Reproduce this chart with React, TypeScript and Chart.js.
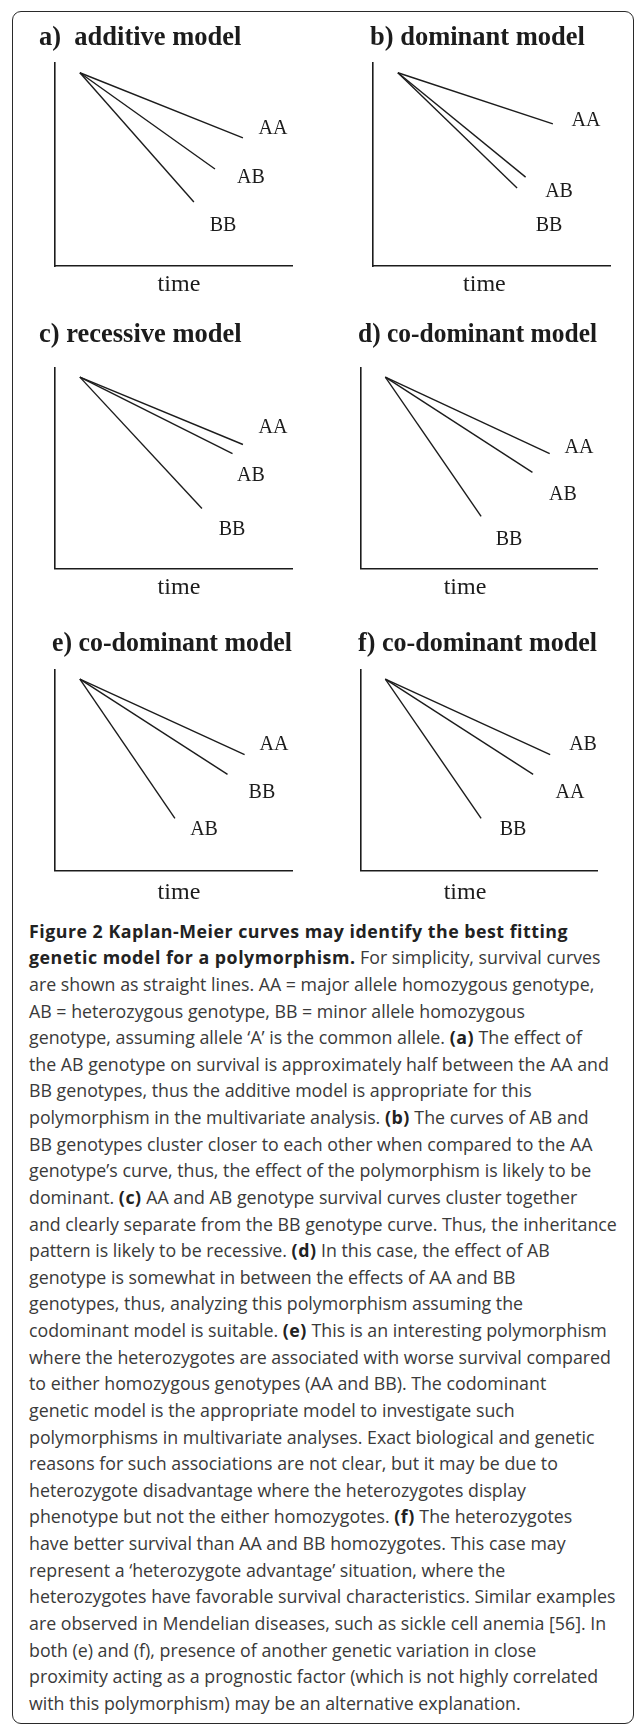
import React, { useEffect, useRef } from "react";
import { Chart, registerables } from "chart.js";

Chart.register(...registerables);

// ---------------- data ----------------
const PANEL_TITLES = [
  "a)  additive model",
  "b) dominant model",
  "c) recessive model",
  "d) co-dominant model",
  "e) co-dominant model",
  "f) co-dominant model",
];
const X_AXIS_TITLE = "time";

// every survival line starts from the same point (time, survival in % of the axes)
const START_TIME = 10.5;
const START_SURVIVAL = 95.2;

// a) additive
const A_GENOTYPES = ["AA", "AB", "BB"];
const A_END_TIME = [79.3, 67.5, 58.6];
const A_END_SURVIVAL = [63.1, 47.8, 31.5];
const A_LABEL_TIME = [92, 82.7, 70.9];
const A_LABEL_SURVIVAL = [67.5, 43.3, 19.7];

// b) dominant
const B_GENOTYPES = ["AA", "AB", "BB"];
const B_END_TIME = [75.9, 64.4, 60.8];
const B_END_SURVIVAL = [70, 43.8, 38.4];
const B_LABEL_TIME = [89.9, 78.5, 74.3];
const B_LABEL_SURVIVAL = [71.4, 36.5, 19.7];

// c) recessive
const C_GENOTYPES = ["AA", "AB", "BB"];
const C_END_TIME = [79.3, 74.9, 62];
const C_END_SURVIVAL = [61.7, 57.2, 29.9];
const C_LABEL_TIME = [92, 82.7, 74.7];
const C_LABEL_SURVIVAL = [70.1, 46.3, 19.4];

// d) co-dominant
const D_GENOTYPES = ["AA", "AB", "BB"];
const D_END_TIME = [80, 72.7, 51];
const D_END_SURVIVAL = [57.2, 47.8, 25.9];
const D_LABEL_TIME = [92.4, 85.6, 62.8];
const D_LABEL_SURVIVAL = [60.2, 36.8, 14.4];

// e) co-dominant (heterozygote disadvantage)
const E_GENOTYPES = ["AA", "BB", "AB"];
const E_END_TIME = [80, 72.8, 50.6];
const E_END_SURVIVAL = [57.7, 47.8, 25.9];
const E_LABEL_TIME = [92.4, 87.3, 62.9];
const E_LABEL_SURVIVAL = [62.7, 38.8, 20.4];

// f) co-dominant (heterozygote advantage)
const F_GENOTYPES = ["AB", "AA", "BB"];
const F_END_TIME = [80.2, 73, 51];
const F_END_SURVIVAL = [57.7, 47.8, 25.9];
const F_LABEL_TIME = [94.1, 88.6, 64.5];
const F_LABEL_SURVIVAL = [62.7, 38.8, 20.4];

// ---------------- layout (page pixels) ----------------
type Layout = {
  titleX: number;
  titleCY: number;
  axisX: number;
  axisTop: number;
  axisRight: number;
  axisBottom: number;
  timeCenter: number; // % of x axis
  timeCY: number;
};

const LAYOUTS: Layout[] = [
  { titleX: 39, titleCY: 38, axisX: 55, axisTop: 63, axisRight: 292, axisBottom: 266, timeCenter: 52.3, timeCY: 285 },
  { titleX: 370, titleCY: 38, axisX: 373, axisTop: 63, axisRight: 610, axisBottom: 266, timeCenter: 47, timeCY: 285 },
  { titleX: 39, titleCY: 334.5, axisX: 55, axisTop: 367, axisRight: 292, axisBottom: 568, timeCenter: 52.3, timeCY: 587 },
  { titleX: 358, titleCY: 334.5, axisX: 360.5, axisTop: 367, axisRight: 597, axisBottom: 568, timeCenter: 44.2, timeCY: 587 },
  { titleX: 52, titleCY: 643.5, axisX: 55, axisTop: 669, axisRight: 292, axisBottom: 870, timeCenter: 52.3, timeCY: 892 },
  { titleX: 358, titleCY: 643.5, axisX: 360.5, axisTop: 669, axisRight: 597, axisBottom: 870, timeCenter: 44.2, timeCY: 892 },
];

const PANEL_DATA = [
  [A_GENOTYPES, A_END_TIME, A_END_SURVIVAL, A_LABEL_TIME, A_LABEL_SURVIVAL],
  [B_GENOTYPES, B_END_TIME, B_END_SURVIVAL, B_LABEL_TIME, B_LABEL_SURVIVAL],
  [C_GENOTYPES, C_END_TIME, C_END_SURVIVAL, C_LABEL_TIME, C_LABEL_SURVIVAL],
  [D_GENOTYPES, D_END_TIME, D_END_SURVIVAL, D_LABEL_TIME, D_LABEL_SURVIVAL],
  [E_GENOTYPES, E_END_TIME, E_END_SURVIVAL, E_LABEL_TIME, E_LABEL_SURVIVAL],
  [F_GENOTYPES, F_END_TIME, F_END_SURVIVAL, F_LABEL_TIME, F_LABEL_SURVIVAL],
] as const;

const INK = "#1c1c1c";
const SERIF = '"Liberation Serif", "Times New Roman", serif';
const TITLE_SIZE = 26.5;
const TITLE_LH = 1.2;

function Panel({ index }: { index: number }) {
  const ref = useRef<HTMLCanvasElement | null>(null);
  const L = LAYOUTS[index];
  const [genotypes, endT, endS, labT, labS] = PANEL_DATA[index] as any;

  const canvasLeft = L.titleX;
  const canvasTop = L.titleCY - 20;
  const canvasW = Math.round(L.axisRight - canvasLeft + 4);
  const canvasH = Math.round(L.timeCY + 24 - canvasTop);

  useEffect(() => {
    if (!ref.current) return;
    const titleBoxTopPad = 20 - (TITLE_SIZE * TITLE_LH) / 2;
    const titleBottomPad = L.axisTop - canvasTop - titleBoxTopPad - TITLE_SIZE * TITLE_LH;

    const labelPlugin = {
      id: "genotypeLabels",
      afterDatasetsDraw(chart: any) {
        const { ctx, scales } = chart;
        const xs = scales.x;
        const ys = scales.y;
        ctx.save();
        ctx.fillStyle = INK;
        ctx.textAlign = "center";
        ctx.textBaseline = "middle";
        ctx.font = `20px ${SERIF}`;
        genotypes.forEach((g: string, i: number) => {
          ctx.fillText(g, xs.getPixelForValue(labT[i]), ys.getPixelForValue(labS[i]));
        });
        ctx.font = `24px ${SERIF}`;
        ctx.fillText(X_AXIS_TITLE, xs.getPixelForValue(L.timeCenter), L.timeCY - canvasTop);
        ctx.restore();
      },
    };

    const chart = new Chart(ref.current, {
      type: "line",
      data: {
        datasets: genotypes.map((g: string, i: number) => ({
          label: g,
          data: [
            { x: START_TIME, y: START_SURVIVAL },
            { x: endT[i], y: endS[i] },
          ],
          borderColor: INK,
          borderWidth: 1.4,
          pointRadius: 0,
          fill: false,
          tension: 0,
        })),
      },
      options: {
        animation: false,
        responsive: false,
        devicePixelRatio: 1,
        layout: {
          padding: {
            left: 0,
            top: 0,
            right: canvasW - (L.axisRight - canvasLeft),
            bottom: canvasH - (L.axisBottom - canvasTop),
          },
        },
        plugins: {
          legend: { display: false },
          tooltip: { enabled: false },
          title: {
            display: true,
            text: PANEL_TITLES[index],
            align: "start",
            color: INK,
            font: { family: SERIF, size: TITLE_SIZE, weight: "bold", lineHeight: TITLE_LH },
            padding: { top: titleBoxTopPad, bottom: titleBottomPad },
          },
        },
        scales: {
          x: {
            type: "linear",
            min: 0,
            max: 100,
            grid: { display: false, drawTicks: false },
            ticks: { display: false },
            border: { display: true, color: INK, width: 1.6 },
            title: { display: false },
          },
          y: {
            type: "linear",
            min: 0,
            max: 100,
            grid: { display: false, drawTicks: false },
            ticks: { display: false },
            border: { display: true, color: INK, width: 1.6 },
            title: { display: false },
            afterFit: (scale: any) => {
              scale.width = L.axisX - canvasLeft;
            },
          },
        },
      } as any,
      plugins: [labelPlugin],
    });
    return () => chart.destroy();
  }, [index]);

  return (
    <canvas
      ref={ref}
      width={canvasW}
      height={canvasH}
      style={{ position: "absolute", left: canvasLeft, top: canvasTop, width: canvasW, height: canvasH }}
    />
  );
}

// ---------------- caption ----------------
type Seg = [string, boolean];
const CAPTION_LINES: Seg[][] = [
  [["Figure 2 Kaplan-Meier curves may identify the best fitting", true]],
  [["genetic model for a polymorphism.", true], [" For simplicity, survival curves", false]],
  [["are shown as straight lines. AA = major allele homozygous genotype,", false]],
  [["AB = heterozygous genotype, BB = minor allele homozygous", false]],
  [["genotype, assuming allele \u2018A\u2019 is the common allele. ", false], ["(a)", true], [" The effect of", false]],
  [["the AB genotype on survival is approximately half between the AA and", false]],
  [["BB genotypes, thus the additive model is appropriate for this", false]],
  [["polymorphism in the multivariate analysis. ", false], ["(b)", true], [" The curves of AB and", false]],
  [["BB genotypes cluster closer to each other when compared to the AA", false]],
  [["genotype\u2019s curve, thus, the effect of the polymorphism is likely to be", false]],
  [["dominant. ", false], ["(c)", true], [" AA and AB genotype survival curves cluster together", false]],
  [["and clearly separate from the BB genotype curve. Thus, the inheritance", false]],
  [["pattern is likely to be recessive. ", false], ["(d)", true], [" In this case, the effect of AB", false]],
  [["genotype is somewhat in between the effects of AA and BB", false]],
  [["genotypes, thus, analyzing this polymorphism assuming the", false]],
  [["codominant model is suitable. ", false], ["(e)", true], [" This is an interesting polymorphism", false]],
  [["where the heterozygotes are associated with worse survival compared", false]],
  [["to either homozygous genotypes (AA and BB). The codominant", false]],
  [["genetic model is the appropriate model to investigate such", false]],
  [["polymorphisms in multivariate analyses. Exact biological and genetic", false]],
  [["reasons for such associations are not clear, but it may be due to", false]],
  [["heterozygote disadvantage where the heterozygotes display", false]],
  [["phenotype but not the either homozygotes. ", false], ["(f)", true], [" The heterozygotes", false]],
  [["have better survival than AA and BB homozygotes. This case may", false]],
  [["represent a \u2018heterozygote advantage\u2019 situation, where the", false]],
  [["heterozygotes have favorable survival characteristics. Similar examples", false]],
  [["are observed in Mendelian diseases, such as sickle cell anemia [56]. In", false]],
  [["both (e) and (f), presence of another genetic variation in close", false]],
  [["proximity acting as a prognostic factor (which is not highly correlated", false]],
  [["with this polymorphism) may be an alternative explanation.", false]],
];

const CAPTION_LINE_H = 26.62;

export default function App() {
  return (
    <div style={{ position: "absolute", left: 0, top: 0, width: 637, height: 1729, background: "#fff", overflow: "hidden" }}>
      <div
        style={{
          position: "absolute",
          left: 12,
          top: 11,
          width: 622,
          height: 1713,
          border: "1.5px solid #2a2a2a",
          borderRadius: 9,
          boxSizing: "border-box",
        }}
      />
      {LAYOUTS.map((_, i) => (
        <Panel key={i} index={i} />
      ))}
      <div
        style={{
          position: "absolute",
          left: 29,
          top: 931 - CAPTION_LINE_H / 2,
          fontFamily: '"Open Sans", sans-serif',
          fontSize: 17.8,
          lineHeight: `${CAPTION_LINE_H}px`,
          color: "#3a3a3a",
          whiteSpace: "pre",
        }}
      >
        {CAPTION_LINES.map((line, i) => (
          <div key={i}>
            {line.map(([t, b], j) => (
              <span
                key={j}
                style={{ fontWeight: b ? 700 : 400, color: b ? "#222" : undefined, letterSpacing: b ? "0.5px" : undefined }}
              >
                {t}
              </span>
            ))}
          </div>
        ))}
      </div>
    </div>
  );
}
